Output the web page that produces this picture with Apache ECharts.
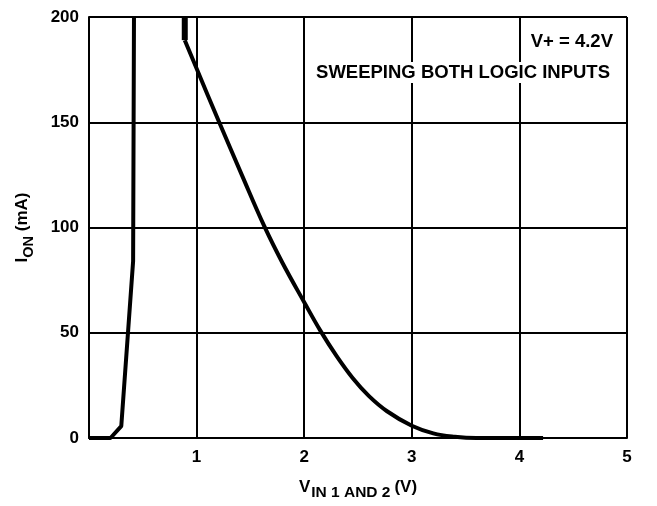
<!DOCTYPE html>
<html>
<head>
<meta charset="utf-8">
<script src="https://cdn.jsdelivr.net/npm/echarts@6/dist/echarts.min.js"></script>
<style>
html,body{margin:0;padding:0;background:#fff;}
#chart{width:657px;height:506px;}
</style>
</head>
<body>
<div id="chart"></div>
<script>
// Rising curve (left)
const riseV = [0, 0.2, 0.3, 0.41, 0.418];
const riseI = [0, 0, 5.6, 84, 200];
// Falling curve (right): vertical start segment, then the decaying curve
const stepV = [0.89, 0.89];
const stepI = [200, 189];
const fallV = [0.89, 1.0, 1.21, 1.42, 1.63, 1.8, 2.0, 2.15, 2.3, 2.45, 2.6, 2.77, 3.0, 3.2, 3.4, 3.6, 4.22];
const fallI = [189, 175.5, 150, 125, 100.5, 83, 64.5, 51, 39, 28.5, 20, 12.7, 5.8, 2.2, 0.6, 0, 0];
const xTicks = ['', '1', '2', '3', '4', '5'];
const yTicks = ['0', '50', '100', '150', '200'];

const zip = (a, b) => a.map((v, i) => [v, b[i]]);
const FONT = 'Liberation Sans';

const chart = echarts.init(document.getElementById('chart'));
chart.setOption({
  animation: false,
  backgroundColor: '#fff',
  grid: {left: 89, top: 17, right: 30, bottom: 64, containLabel: false},
  xAxis: {
    type: 'value', min: 0, max: 5, interval: 1,
    axisLine: {show: true, lineStyle: {color: '#000', width: 2}},
    axisTick: {show: false},
    splitLine: {show: true, lineStyle: {color: '#000', width: 2}},
    axisLabel: {
      color: '#000', fontFamily: FONT, fontWeight: 'bold', fontSize: 17, margin: 11,
      formatter: v => xTicks[Math.round(v)]
    },
    name: '{v|V}{sub|IN 1 AND 2}{u|(V)}',
    nameLocation: 'middle', nameGap: 41,
    nameTextStyle: {
      rich: {
        v: {fontFamily: FONT, fontWeight: 'bold', fontSize: 17, color: '#000', verticalAlign: 'top', padding: [0, 0, 5, 0]},
        sub: {fontFamily: FONT, fontWeight: 'bold', fontSize: 15.5, color: '#000', verticalAlign: 'bottom', padding: [5, 4, 0, 1]},
        u: {fontFamily: FONT, fontWeight: 'bold', fontSize: 17, color: '#000', verticalAlign: 'top', padding: [0, 0, 5, 0]}
      }
    }
  },
  yAxis: {
    type: 'value', min: 0, max: 200, interval: 50,
    axisLine: {show: true, lineStyle: {color: '#000', width: 2}},
    axisTick: {show: false},
    splitLine: {show: true, lineStyle: {color: '#000', width: 2}},
    axisLabel: {
      color: '#000', fontFamily: FONT, fontWeight: 'bold', fontSize: 17, margin: 10,
      padding: [0, 0, 8, 0],
      formatter: v => yTicks[Math.round(v / 50)]
    },
    name: '{i|I}{sub|ON}{u| (mA)}',
    nameLocation: 'middle', nameGap: 53, nameRotate: 90,
    nameTextStyle: {
      rich: {
        i: {fontFamily: FONT, fontWeight: 'bold', fontSize: 17, color: '#000', verticalAlign: 'top', padding: [0, 0, 5, 0]},
        sub: {fontFamily: FONT, fontWeight: 'bold', fontSize: 14.5, color: '#000', verticalAlign: 'bottom', padding: [5, 0, 0, 0]},
        u: {fontFamily: FONT, fontWeight: 'bold', fontSize: 17, color: '#000', verticalAlign: 'top', padding: [0, 0, 5, 0]}
      }
    }
  },
  series: [
    {type: 'line', data: zip(riseV, riseI), symbol: 'none', lineStyle: {color: '#000', width: 4}, z: 5},
    {type: 'line', data: zip(stepV, stepI), symbol: 'none', lineStyle: {color: '#000', width: 6}, z: 5},
    {type: 'line', data: zip(fallV, fallI), symbol: 'none', smooth: 0.4, lineStyle: {color: '#000', width: 4}, z: 5}
  ],
  graphic: [
    {type: 'text', right: 42, top: 31, z: 10,
     style: {text: 'V+ = 4.2V', font: 'bold 18.5px "Liberation Sans"', fill: '#000', backgroundColor: '#fff', padding: [1, 2]}},
    {type: 'text', right: 45, top: 62, z: 10,
     style: {text: 'SWEEPING BOTH LOGIC INPUTS', font: 'bold 18.5px "Liberation Sans"', fill: '#000', backgroundColor: '#fff', padding: [1, 2]}}
  ]
});
</script>
</body>
</html>
